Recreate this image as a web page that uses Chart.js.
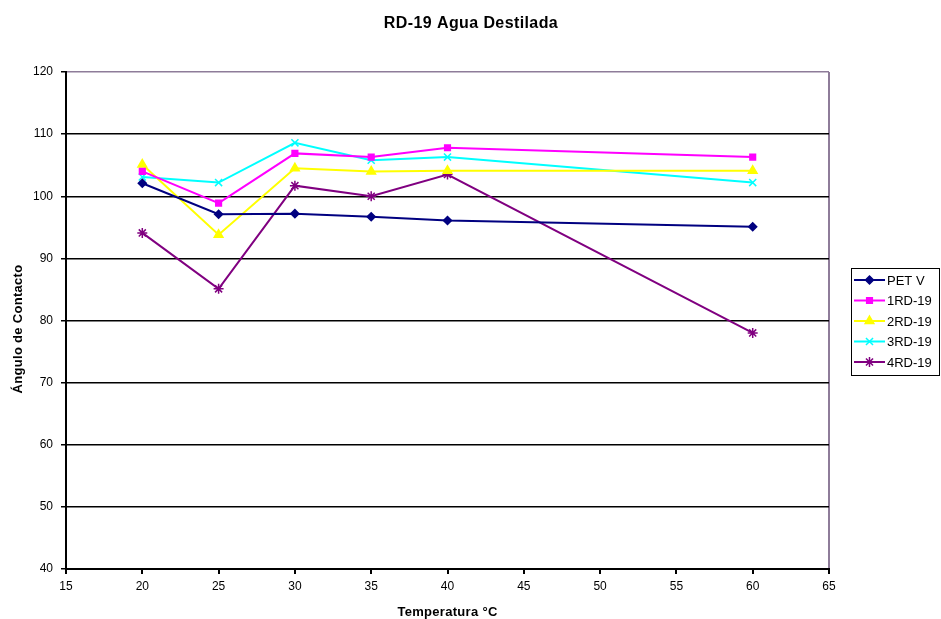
<!DOCTYPE html>
<html><head><meta charset="utf-8">
<script src="https://cdn.jsdelivr.net/npm/chart.js@4/dist/chart.umd.min.js"></script>
<style>html,body{margin:0;padding:0;background:#fff}#wrap{width:941px;height:619px}</style>
</head><body><div id="wrap"><canvas id="c" width="941" height="619"></canvas></div>
<script>
const temps = [20, 25, 30, 35, 40, 60];
const petV = [102.1, 97.1, 97.2, 96.7, 96.1, 95.1];
const rd1 = [104.0, 98.9, 106.9, 106.3, 107.8, 106.3];
const rd2 = [105.1, 93.8, 104.5, 104.0, 104.1, 104.1];
const rd3 = [103.1, 102.2, 108.6, 105.8, 106.3, 102.2];
const rd4 = [94.1, 85.1, 101.7, 100.0, 103.5, 78.0];
const seriesNames = ['PET V', '1RD-19', '2RD-19', '3RD-19', '4RD-19'];
const chartTitle = 'RD-19 Agua Destilada';
const xTitle = 'Temperatura °C';
const yTitle = 'Ángulo de Contacto';

const FONT = 'Arial, "Liberation Sans", sans-serif';
const styles = [
  {color: '#000080', pt: 'rectRot', r: 4},
  {color: '#FF00FF', pt: 'rect', r: 4},
  {color: '#FFFF00', pt: 'triangle', r: 5},
  {color: '#00FFFF', pt: 'crossRot', r: 5},
  {color: '#800080', pt: 'star', r: 5}
];
const allSeries = [petV, rd1, rd2, rd3, rd4];
const datasets = allSeries.map((vals, i) => ({
  label: seriesNames[i],
  data: vals.map((v, j) => ({x: temps[j], y: v})),
  showLine: true,
  borderColor: styles[i].color,
  backgroundColor: styles[i].color,
  pointBorderColor: styles[i].color,
  pointBackgroundColor: styles[i].color,
  pointStyle: styles[i].pt,
  pointRadius: styles[i].r,
  pointBorderWidth: 1.5,
  borderWidth: 2,
  tension: 0
}));

const decorPlugin = {
  id: 'decor',
  afterDraw(chart) {
    const ctx = chart.ctx;
    const area = chart.chartArea;
    ctx.save();
    ctx.fillStyle = '#000';
    // chart title
    ctx.font = 'bold 16px ' + FONT;
    ctx.letterSpacing = '0.4px';
    ctx.textAlign = 'center';
    ctx.textBaseline = 'alphabetic';
    ctx.fillText(chartTitle, 471, 28);
    // x axis title
    ctx.font = 'bold 13px ' + FONT;
    ctx.letterSpacing = '0.3px';
    ctx.fillText(xTitle, (area.left + area.right) / 2, 616);
    // y axis title
    ctx.save();
    ctx.translate(22, 329);
    ctx.rotate(-Math.PI / 2);
    ctx.fillText(yTitle, 0, 0);
    ctx.restore();
    // legend
    const x0 = 851, y0 = 268, w = 88, h = 107;
    ctx.letterSpacing = '0px';
    ctx.strokeStyle = '#000';
    ctx.lineWidth = 1;
    ctx.strokeRect(x0 + 0.5, y0 + 0.5, w, h);
    ctx.font = '13px ' + FONT;
    ctx.textBaseline = 'middle';
    ctx.textAlign = 'left';
    chart.data.datasets.forEach((ds, i) => {
      const y = y0 + 12 + i * 20.5;
      ctx.strokeStyle = ds.borderColor;
      ctx.lineWidth = 2;
      ctx.beginPath();
      ctx.moveTo(854, y);
      ctx.lineTo(885, y);
      ctx.stroke();
      ctx.fillStyle = ds.pointBackgroundColor;
      ctx.strokeStyle = ds.pointBorderColor;
      ctx.lineWidth = 1.5;
      Chart.helpers.drawPoint(ctx, {pointStyle: ds.pointStyle, radius: ds.pointRadius, rotation: 0, borderWidth: 1.5}, 869.5, y);
      ctx.fillStyle = '#000';
      ctx.fillText(ds.label, 887, y + 1);
    });
    ctx.restore();
  }
};

new Chart(document.getElementById('c'), {
  type: 'scatter',
  data: {datasets},
  plugins: [decorPlugin],
  options: {
    responsive: false,
    animation: false,
    layout: {padding: {left: 0, right: 112, top: 72, bottom: 0}},
    plugins: {
      legend: {display: false},
      tooltip: {enabled: false},
      title: {display: false}
    },
    scales: {
      x: {
        type: 'linear', min: 15, max: 65,
        afterFit(s) { s.height = 50; },
        ticks: {stepSize: 5, color: '#000', font: {family: FONT, size: 12}, padding: 5, maxRotation: 0},
        grid: {
          drawOnChartArea: true, tickLength: 5, tickColor: '#000', lineWidth: 2,
          color: c => (c.tick && c.tick.value === 65) ? '#8e7c99' : 'rgba(0,0,0,0)'
        },
        border: {display: true, color: '#000', width: 2},
        title: {display: false}
      },
      y: {
        min: 40, max: 120,
        afterFit(s) { s.width = 66; },
        ticks: {stepSize: 10, color: '#000', font: {family: FONT, size: 12}, padding: 8},
        grid: {
          tickLength: 5, tickColor: '#000', lineWidth: 1.5,
          color: c => (c.tick && c.tick.value === 120) ? '#8e7c99' : '#000'
        },
        border: {display: true, color: '#000', width: 2},
        title: {display: false}
      }
    }
  }
});
</script>
</body></html>
